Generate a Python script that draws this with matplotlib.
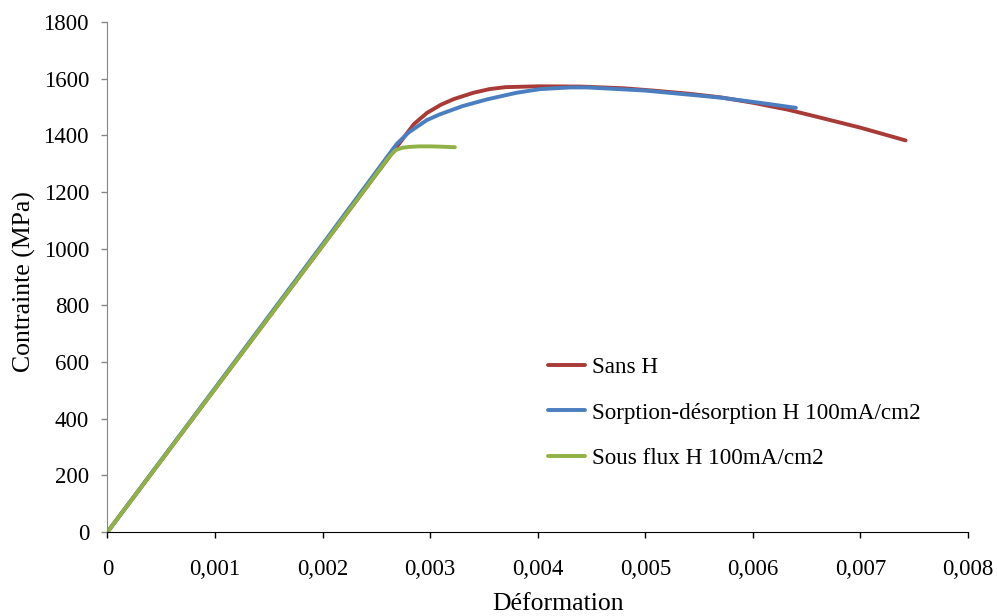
import matplotlib.pyplot as plt
from matplotlib.ticker import FuncFormatter

# courbes (deformation, contrainte MPa)
sans_h_x = [0, 0.0010, 0.0020, 0.00278, 0.00285, 0.00297, 0.0031, 0.00322, 0.0034, 0.00355,
            0.0037, 0.0040, 0.0044, 0.0048, 0.00507, 0.0054, 0.0057, 0.0060, 0.00632, 0.0066, 0.0070, 0.00742]
sans_h_y = [0, 505, 1010, 1405, 1440, 1479, 1508, 1528, 1550, 1563,
            1570, 1573, 1572, 1566, 1558, 1547, 1534, 1515, 1491, 1465, 1427, 1382]

sorption_x = [0, 0.0010, 0.0020, 0.00269, 0.0028, 0.00297, 0.00309, 0.0033, 0.00353, 0.0038,
              0.00402, 0.0043, 0.00446, 0.0050, 0.0057, 0.0061, 0.0064]
sorption_y = [0, 508, 1016, 1370, 1410, 1454, 1474, 1503, 1527, 1550,
              1563, 1569, 1569, 1558, 1533, 1513, 1497]

sous_flux_x = [0, 0.0010, 0.0020, 0.00262, 0.00268, 0.00274, 0.0028, 0.0029, 0.0030, 0.0031, 0.00323]
sous_flux_y = [0, 505, 1010, 1325, 1348, 1356, 1359, 1361, 1361, 1360, 1358]

labels = ["Sans H", "Sorption-désorption H 100mA/cm2", "Sous flux H 100mA/cm2"]
colors = ["#A83B37", "#4A7EBF", "#8FB147"]

plt.rcParams['font.family'] = ['Liberation Serif', 'DejaVu Serif']

fig = plt.figure(figsize=(9.97, 6.16), dpi=100)
ax = fig.add_axes([0.1078, 0.1364, 0.8631, 0.8279])

ax.plot(sans_h_x, sans_h_y, color=colors[0], lw=2.8, label=labels[0], solid_capstyle='round')
ax.plot(sorption_x, sorption_y, color=colors[1], lw=2.8, label=labels[1], solid_capstyle='round')
ax.plot(sous_flux_x, sous_flux_y, color=colors[2], lw=2.8, label=labels[2], solid_capstyle='round')

ax.set_xlim(0, 0.008)
ax.set_ylim(0, 1800)
ax.set_xticks([i * 0.001 for i in range(9)])
ax.set_yticks(range(0, 1801, 200))

def fmt_x(v, pos):
    if abs(v) < 1e-12:
        return "0"
    return ("%.3f" % v).replace(".", ",")

ax.xaxis.set_major_formatter(FuncFormatter(fmt_x))
ax.tick_params(axis='x', labelsize=16.5, direction='out', length=4.3, width=1, pad=15,
               colors='black', labelcolor='black')
ax.tick_params(axis='y', labelsize=16.5, direction='out', length=4.3, width=1, pad=9,
               colors='#868686', labelcolor='black')

for s in ['top', 'right']:
    ax.spines[s].set_visible(False)
ax.spines['left'].set_color('#868686')
ax.spines['bottom'].set_color('black')

fig.text(558 / 997, 1 - 610 / 616, "Déformation", fontsize=18.5, ha='center', va='baseline')
fig.text(24 / 997, 1 - 282 / 616, "Contrainte (MPa)", fontsize=18.5, ha='center', va='center',
         rotation=90)

ax.legend(loc='upper left', bbox_to_anchor=(548 / 997, 1 - 357 / 616), bbox_transform=fig.transFigure,
          frameon=False, fontsize=16.7, handlelength=1.6, handletextpad=0.3, labelspacing=1.04,
          borderaxespad=0, borderpad=0)

fig.savefig("out.png", dpi=100)
